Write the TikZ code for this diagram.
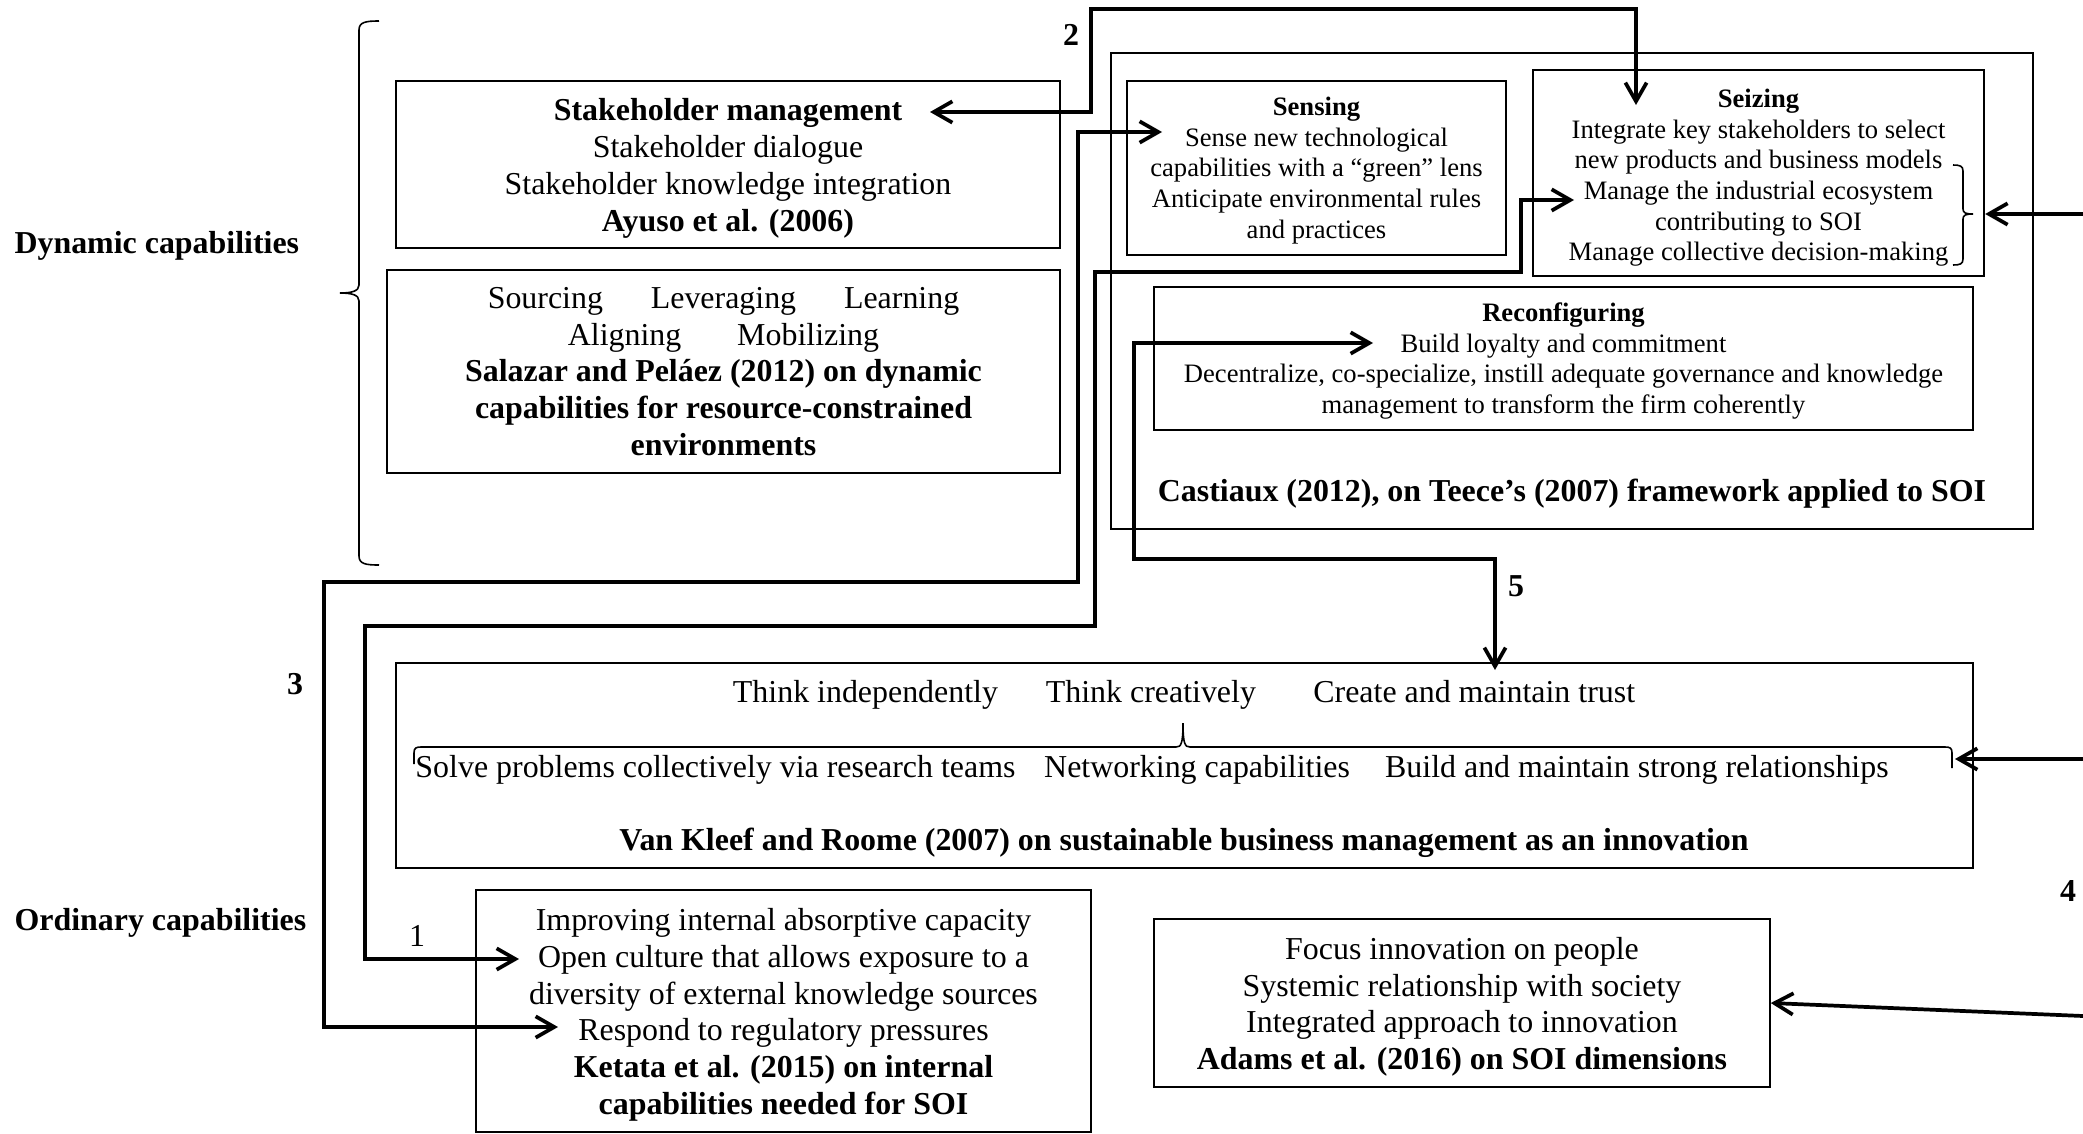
\documentclass[tikz,border=0pt]{standalone}
\usepackage{fontspec}
\setmainfont{Liberation Serif}
\usetikzlibrary{arrows.meta}
\newcommand{\bigstrut}{\rule{0pt}{11.2pt}}
\newcommand{\smallstrut}[1][8.8pt]{\rule{0pt}{#1}}

\begin{document}
\begin{tikzpicture}[x=0.376pt, y=-0.376pt,
		bigtxt/.style={font=\fontsize{12}{13.8}\selectfont, align=center, inner sep=0pt},
		smalltxt/.style={font=\fontsize{10}{11.5}\selectfont, align=center, inner sep=0pt},
		box/.style={draw, line width=0.6pt},
		tecbox/.style={draw, line width=0.9pt},
		link/.style={line width=1.4pt, {Straight Barb[length=7pt,width=8pt]}-{Straight Barb[length=7pt,width=8pt]}},
		inlink/.style={line width=1.4pt, {Straight Barb[length=7pt,width=8pt]}-},
		curly/.style={line width=0.6pt}]
		\useasboundingbox (0,0) rectangle (2083,1134);

		% capability levels
		\node[bigtxt, anchor=west] (dyn) at (14,246) {\textbf{Dynamic capabilities}};
		\node[bigtxt, anchor=west] (ord) at (14,923) {\textbf{Ordinary capabilities}};
		\draw[curly] (379,21) .. controls (366,21) and (359,22) .. (359,30) -- (359,285) .. controls (359,291) and (352,293) .. (340,293) .. controls (352,293) and (359,295) .. (359,301) -- (359,556) .. controls (359,564) and (366,565) .. (379,565);

		% dynamic capabilities
		\node[tecbox, bigtxt, minimum width=249.7pt, minimum height=62.8pt] (stake) at (728,164.5) {\bigstrut\textbf{Stakeholder management}\\Stakeholder dialogue\\Stakeholder knowledge integration\\\textbf{Ayuso et al. (2006)}};
		\node[tecbox, bigtxt, minimum width=253pt, minimum height=76.3pt] (salazar) at (723.5,371.5) {Sourcing\hspace{1.5em}Leveraging\hspace{1.5em}Learning\\Aligning\hspace{1.75em}Mobilizing\\\textbf{Salazar and Peláez (2012) on dynamic}\\\textbf{capabilities for resource-constrained}\\\textbf{environments}};

		\node[box, minimum width=346.7pt, minimum height=179pt] (castiaux) at (1572,291) {};
		\node[tecbox, smalltxt, minimum width=142.5pt, minimum height=65.4pt] (sensing) at (1316.5,168) {\smallstrut\textbf{Sensing}\\Sense new technological\\capabilities with a ``green'' lens\\Anticipate environmental rules\\and practices};
		\node[tecbox, smalltxt, minimum width=169.6pt, minimum height=77.5pt] (seizing) at (1758.5,173) {\smallstrut[10.6pt]\textbf{Seizing}\\Integrate key stakeholders to select\\new products and business models\\Manage the industrial ecosystem\\contributing to SOI\\Manage collective decision-making};
		\draw[curly] (1953,165) .. controls (1960,165) and (1963,166) .. (1963,171) -- (1963,209) .. controls (1963,213) and (1966,214) .. (1973,214) .. controls (1966,214) and (1963,215) .. (1963,219) -- (1963,259) .. controls (1963,264) and (1960,265) .. (1953,265);
		\node[box, smalltxt, minimum width=307.9pt, minimum height=53.8pt] (reconf) at (1563.5,358.5) {\smallstrut\textbf{Reconfiguring}\\Build loyalty and commitment\\Decentralize, co-specialize, instill adequate governance and knowledge\\management to transform the firm coherently};
		\node[bigtxt] (castlbl) at (1572,494) {\textbf{Castiaux (2012), on Teece's (2007) framework applied to SOI}};

		% ordinary capabilities
		\node[box, minimum width=593pt, minimum height=77.1pt] (vankleef) at (1184.5,765.5) {};
		\node[bigtxt] (vkl1) at (1184,695) {Think independently\hspace{1.5em}Think creatively\hspace{1.8em}Create and maintain trust};
		\node[bigtxt] (vkl2) at (1152,770) {Solve problems collectively via research teams\hspace{0.9em}Networking capabilities\hspace{1.1em}Build and maintain strong relationships};
		\node[bigtxt] (vkl3) at (1184,843) {\textbf{Van Kleef and Roome (2007) on sustainable business management as an innovation}};
		\draw[curly] (414,764) -- (414,753) .. controls (414,748) and (416,747) .. (421,747) -- (1176,747) .. controls (1181,747) and (1183,744) .. (1183,723) .. controls (1183,744) and (1185,747) .. (1190,747) -- (1945,747) .. controls (1950,747) and (1952,748) .. (1952,753) -- (1952,768);

		\node[box, bigtxt, minimum width=231.2pt, minimum height=91pt] (ketata) at (783.5,1011) {\bigstrut Improving internal absorptive capacity\\Open culture that allows exposure to a\\diversity of external knowledge sources\\Respond to regulatory pressures\\\textbf{Ketata et al. (2015) on internal}\\\textbf{capabilities needed for SOI}};
		\node[box, bigtxt, minimum width=231.6pt, minimum height=63.2pt] (adams) at (1462,1003) {\bigstrut Focus innovation on people\\Systemic relationship with society\\Integrated approach to innovation\\\textbf{Adams et al. (2016) on SOI dimensions}};

		% links
		\coordinate (t1a) at (1574,200);
		\coordinate (t1b) at (519,959);
		\coordinate (t2a) at (930,112);
		\coordinate (t2b) at (1636,105);
		\coordinate (t3a) at (1162,132);
		\coordinate (t3b) at (558,1027);
		\coordinate (t5a) at (1373,343);
		\coordinate (t5b) at (1495,670);
		\coordinate (vkb) at (1955,759);
		\coordinate (r4a) at (2083,214);
		\coordinate (r4b) at (2083,759);
		\coordinate (r4c) at (2083,1016);

		\draw[link] (t1b) -| (365,626) -| (1095,272) -| (1521,200) -- (t1a);
		\draw[link] (t2a) -| (1091,9) -| (t2b);
		\draw[link] (t3b) -| (324,582) -| (1078,132) -- (t3a);
		\draw[link] (t5a) -| (1134,559) -| (t5b);
		\draw[inlink] (seizing.east |- r4a) -- (r4a);
		\draw[inlink] (vkb) -- (r4b);
		\draw[inlink] (adams.east) -- (r4c);

		\node[bigtxt] (n1) at (417,936) {1};
		\node[bigtxt] (n2) at (1071,35) {\textbf{2}};
		\node[bigtxt] (n3) at (295,684) {\textbf{3}};
		\node[bigtxt] (n4) at (2068,891) {\textbf{4}};
		\node[bigtxt] (n5) at (1516,586) {\textbf{5}};
	\end{tikzpicture}
\end{document}
